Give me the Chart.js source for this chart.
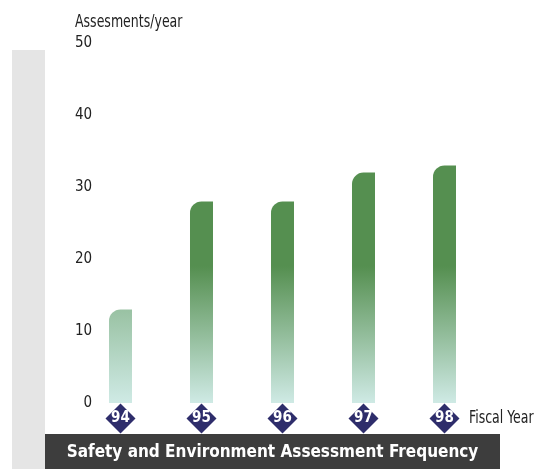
<!DOCTYPE html>
<html><head><meta charset="utf-8">
<script src="https://cdn.jsdelivr.net/npm/chart.js@4"></script>
<style>html,body{margin:0;padding:0;background:#fff}#wrap{width:541px;height:469px;position:relative}</style>
</head><body><div id="wrap"><canvas id="c" width="541" height="469"></canvas></div>
<script>
const categories = ['94', '95', '96', '97', '98'];
const assessments = [13, 28, 28, 32, 33];
const yTicks = [0, 10, 20, 30, 40, 50];
const titleText = 'Safety and Environment Assessment Frequency';
const yAxisTitle = 'Assesments/year';
const xAxisTitle = 'Fiscal Year';

const FONT = "'Liberation Sans Narrow', 'DejaVu Sans Condensed', 'Liberation Sans', sans-serif";
const LIGHT = [207, 234, 229];
const DARK = [85, 143, 80];

function mix(a, b, t) {
  return 'rgb(' + a.map((v, i) => Math.round(v + (b[i] - v) * t)).join(',') + ')';
}

function barFill(ctx) {
  const chart = ctx.chart;
  const y = chart.scales.y;
  if (!chart.chartArea || !y) return mix(LIGHT, DARK, 1);
  const v = ctx.raw || 0;
  const k = Math.min(1, v / 20);
  const y0 = y.getPixelForValue(0);
  const y1 = y.getPixelForValue(19);
  const g = chart.ctx.createLinearGradient(0, y0, 0, y1);
  g.addColorStop(0, mix(LIGHT, DARK, 0));
  g.addColorStop(1, mix(LIGHT, DARK, k));
  return g;
}

function narrowText(ctx, text, x, y, sx) {
  ctx.save();
  ctx.translate(x, y);
  ctx.scale(sx, 1);
  ctx.fillText(text, 0, 0);
  ctx.restore();
}

const deco = {
  id: 'deco',
  beforeDraw(chart) {
    const ctx = chart.ctx;
    ctx.save();
    ctx.fillStyle = '#e5e5e5';
    ctx.fillRect(12, 50, 33, 419);
    ctx.fillStyle = '#3d3d3d';
    ctx.fillRect(45, 434, 455, 35);
    const x = chart.scales.x;
    const cy = x.top + 15.5;
    ctx.fillStyle = '#2e2d6b';
    x.ticks.forEach((t, i) => {
      const cx = x.getPixelForTick(i);
      ctx.beginPath();
      ctx.moveTo(cx, cy - 15);
      ctx.lineTo(cx + 15, cy);
      ctx.lineTo(cx, cy + 15);
      ctx.lineTo(cx - 15, cy);
      ctx.closePath();
      ctx.fill();
    });
    ctx.restore();
  },
  afterDraw(chart) {
    const ctx = chart.ctx;
    ctx.save();
    ctx.textBaseline = 'middle';
    ctx.fillStyle = '#ffffff';
    ctx.textAlign = 'center';
    ctx.font = 'bold 17px ' + FONT;
    ctx.fillText(titleText, 272.5, 453);
    ctx.fillStyle = '#222222';
    ctx.textAlign = 'left';
    ctx.font = '17px ' + FONT;
    narrowText(ctx, yAxisTitle, 75, 23, 0.82);
    narrowText(ctx, xAxisTitle, 469, 419, 0.82);
    ctx.restore();
  }
};

new Chart(document.getElementById('c'), {
  type: 'bar',
  data: {
    labels: categories,
    datasets: [{
      data: assessments,
      backgroundColor: barFill,
      borderWidth: 0,
      borderRadius: {topLeft: 18, topRight: 0, bottomLeft: 0, bottomRight: 0},
      borderSkipped: 'bottom',
      barPercentage: 0.284,
      categoryPercentage: 1
    }]
  },
  options: {
    responsive: false,
    animation: false,
    layout: {padding: {left: 0, right: 56, top: 43, bottom: 0}},
    plugins: {legend: {display: false}, tooltip: {enabled: false}, title: {display: false}},
    scales: {
      x: {
        grid: {display: false, drawTicks: false},
        border: {display: false},
        afterFit(s) { s.height = 66; },
        ticks: {color: '#ffffff', padding: 6.5, font: {family: FONT, size: 15, weight: 'bold', lineHeight: 1.2}, maxRotation: 0}
      },
      y: {
        min: 0, max: 50,
        grid: {display: false, drawTicks: false},
        border: {display: false},
        afterFit(s) { s.width = 80; },
        afterBuildTicks(s) { s.ticks = yTicks.map(v => ({value: v})); },
        ticks: {color: '#222222', mirror: true, crossAlign: 'far', padding: -5, font: {family: FONT, size: 15}}
      }
    }
  },
  plugins: [deco]
});
</script></body></html>
